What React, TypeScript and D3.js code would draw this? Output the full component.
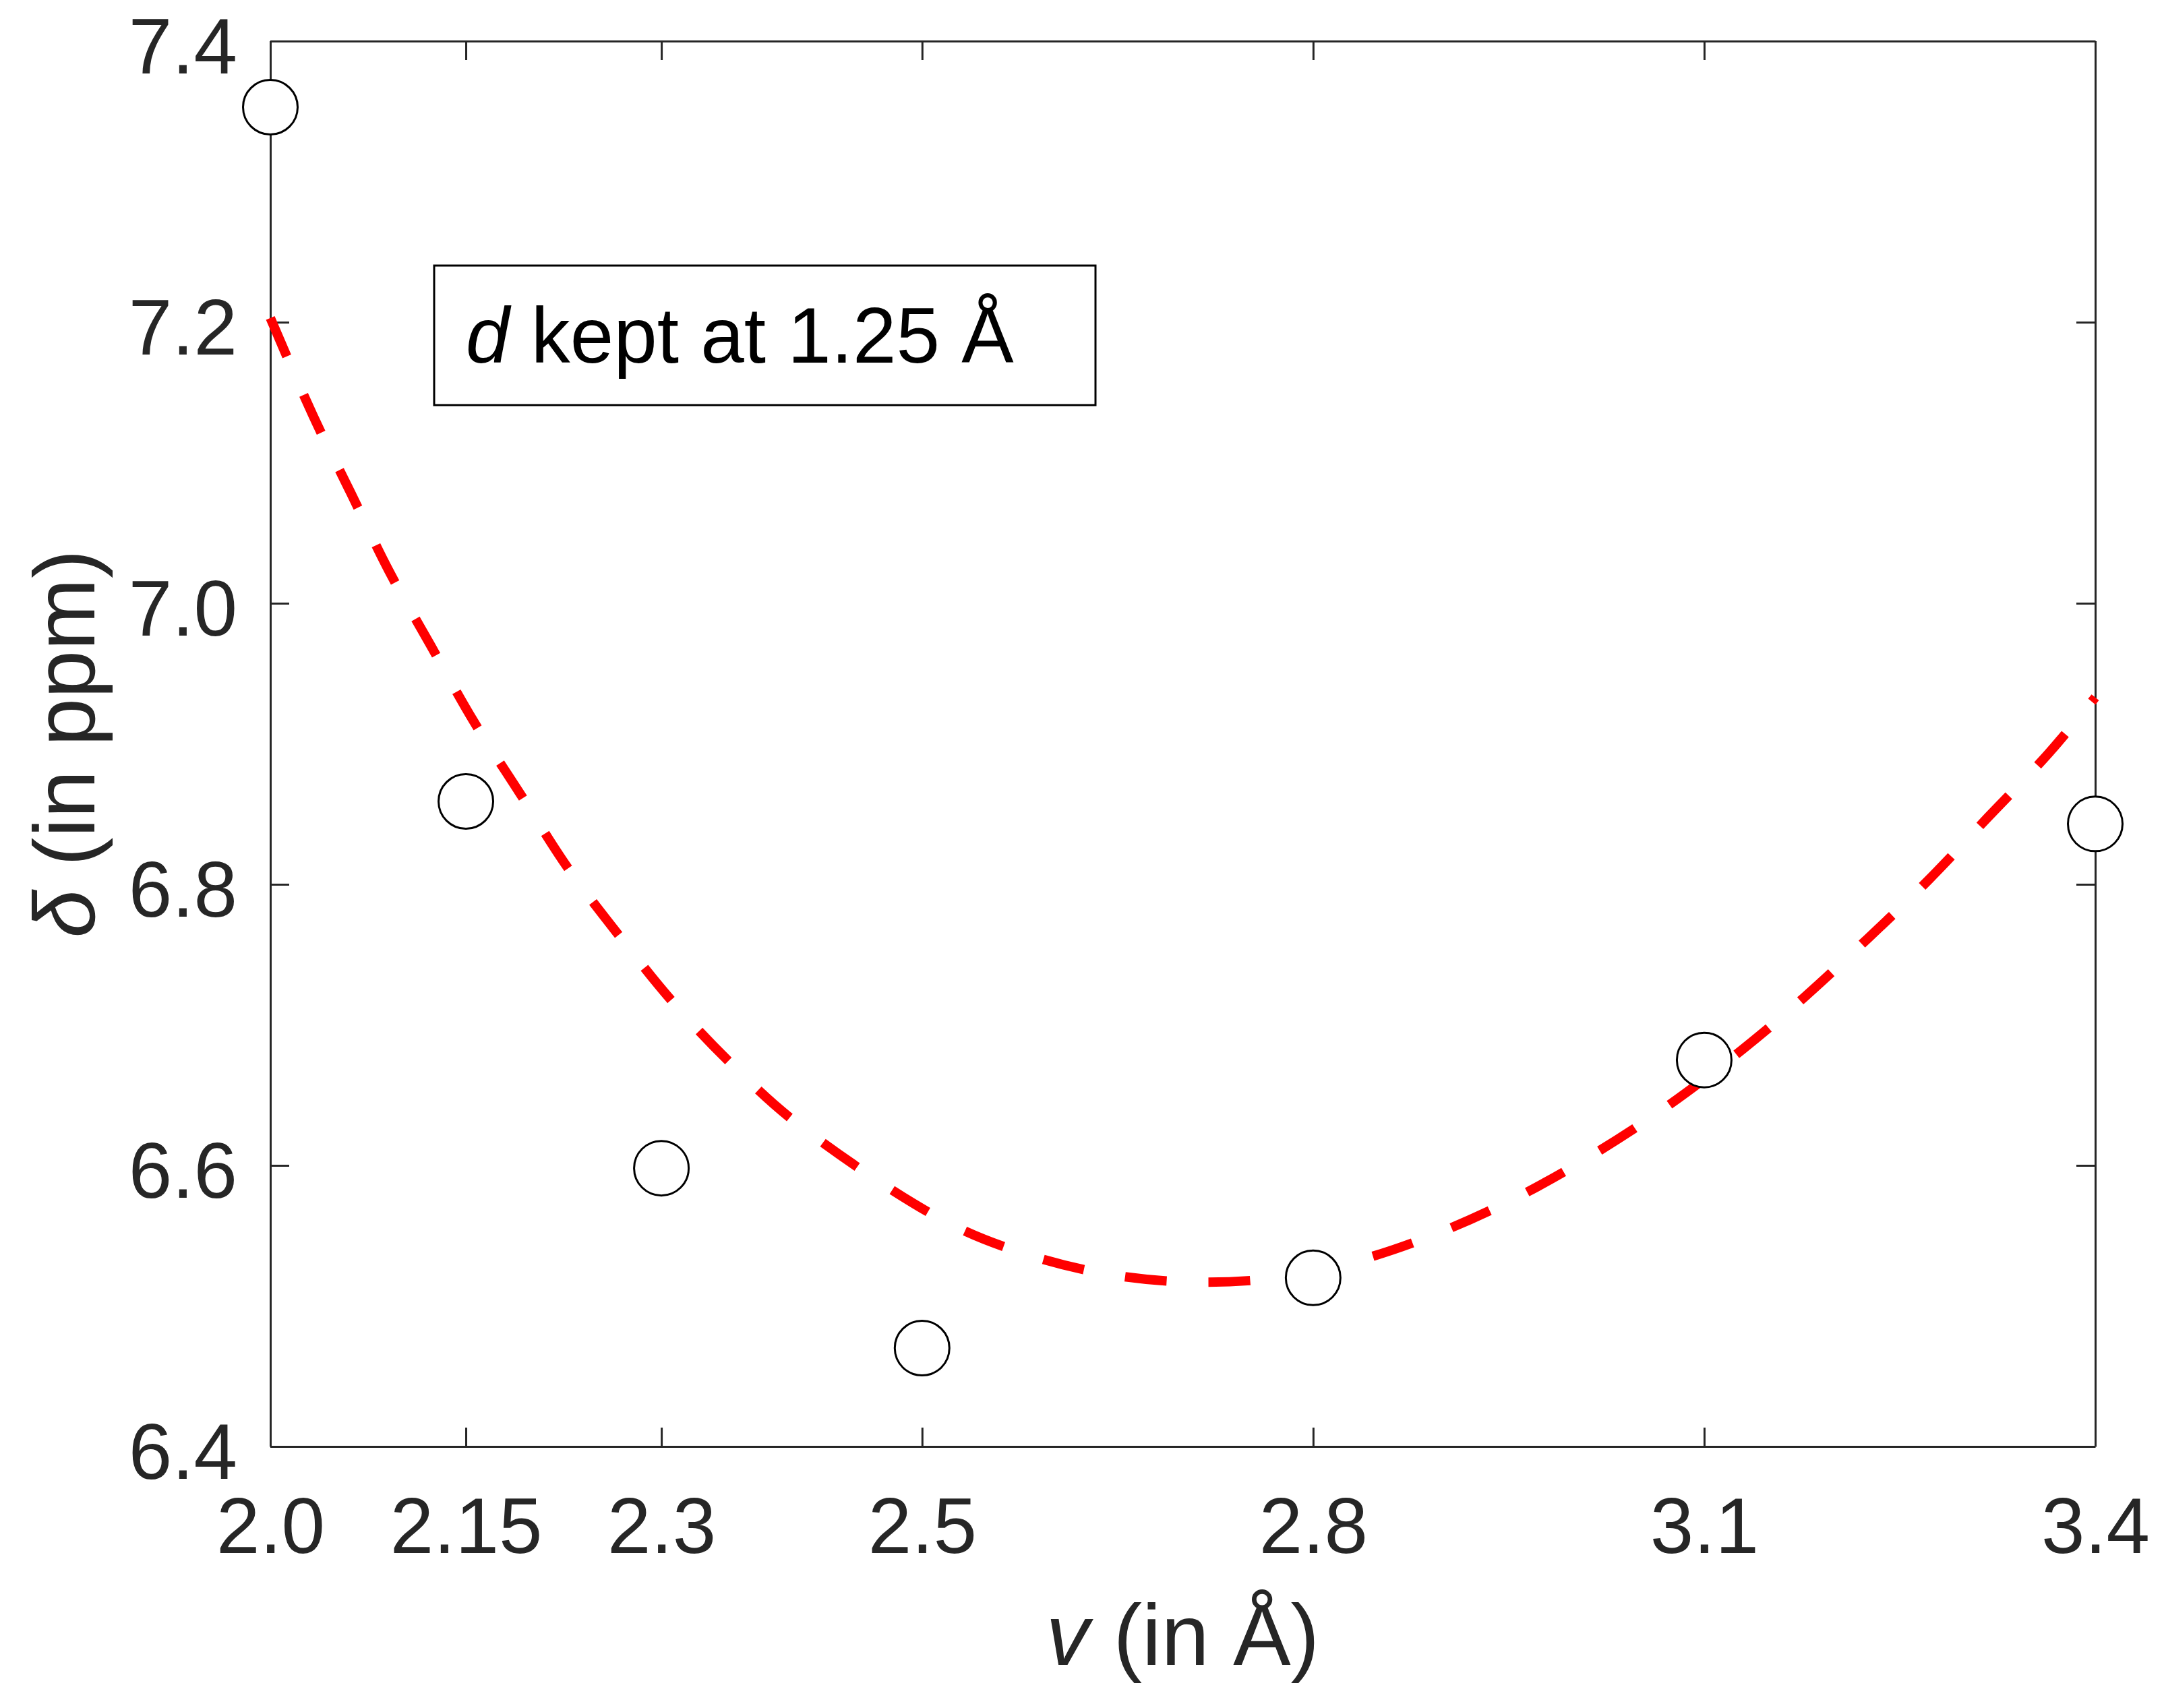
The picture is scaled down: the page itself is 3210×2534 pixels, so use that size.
import { useEffect, useRef } from "react";
import * as d3 from "d3";

// axis ticks
const vTicks = [2.0, 2.15, 2.3, 2.5, 2.8, 3.1, 3.4];
const vTickLabels = ["2.0", "2.15", "2.3", "2.5", "2.8", "3.1", "3.4"];
const deltaTicks = [6.4, 6.6, 6.8, 7.0, 7.2, 7.4];
const deltaTickLabels = ["6.4", "6.6", "6.8", "7.0", "7.2", "7.4"];

// computed points (open circles)
const pointV = [2.0, 2.15, 2.3, 2.5, 2.8, 3.1, 3.4];
const pointDelta = [7.353, 6.859, 6.598, 6.47, 6.52, 6.675, 6.843];

// dashed fit
const fitV = [
  2.0, 2.033, 2.062, 2.091, 2.123, 2.156, 2.192, 2.228, 2.268, 2.309, 2.355,
  2.404, 2.514, 2.576, 2.64, 2.706, 2.772, 2.837, 2.899, 2.96, 3.017, 3.073,
  3.13, 3.176, 3.225, 3.272, 3.318, 3.364, 3.4,
];
const fitDelta = [
  7.203, 7.133, 7.078, 7.023, 6.97, 6.916, 6.864, 6.812, 6.763, 6.716, 6.671,
  6.63, 6.562, 6.538, 6.523, 6.517, 6.52, 6.533, 6.553, 6.579, 6.609, 6.643,
  6.683, 6.719, 6.761, 6.803, 6.848, 6.893, 6.933,
];

const noteText = "kept at 1.25 Å";

const W = 3210;
const H = 2534;
const FONT = "'Liberation Sans', Arial, Helvetica, sans-serif";
const AXIS_COLOR = "#262626";

export default function App() {
  const ref = useRef<SVGSVGElement | null>(null);

  useEffect(() => {
    const svg = d3.select(ref.current);
    if (!ref.current) return;
    svg.selectAll("*").remove();

    const left = 401, right = 3108, top = 61, bottom = 2146;

    const x = d3.scaleLinear().domain([2.0, 3.4]).range([left, right]);
    const y = d3.scaleLinear().domain([6.4, 7.4]).range([bottom, top]);

    const styleAxis = (g: any) => {
      g.attr("color", AXIS_COLOR).attr("font-family", FONT).attr("font-size", 116);
      g.select(".domain").attr("stroke-width", 3);
      g.selectAll(".tick line").attr("stroke-width", 3);
    };

    // bottom axis with labels
    const gx = svg.append("g").attr("transform", `translate(0,${bottom})`);
    gx.call(
      d3.axisBottom(x)
        .tickValues(vTicks)
        .tickFormat((d: any) => vTickLabels[vTicks.indexOf(d)])
        .tickSize(-28)
        .tickSizeOuter(0)
    );
    styleAxis(gx);
    gx.selectAll("text").attr("y", 158).attr("dy", 0).attr("fill", AXIS_COLOR);

    // left axis with labels
    const gy = svg.append("g").attr("transform", `translate(${left},0)`);
    gy.call(
      d3.axisLeft(y)
        .tickValues(deltaTicks)
        .tickFormat((d: any) => deltaTickLabels[deltaTicks.indexOf(d)])
        .tickSize(-28)
        .tickSizeOuter(0)
    );
    styleAxis(gy);
    gy.selectAll("text").attr("x", -49).attr("dy", 47).attr("fill", AXIS_COLOR);

    // top / right, ticks only
    const gt = svg.append("g").attr("transform", `translate(0,${top})`);
    gt.call(d3.axisTop(x).tickValues(vTicks).tickFormat(() => "").tickSize(-28).tickSizeOuter(0));
    styleAxis(gt);
    const gr = svg.append("g").attr("transform", `translate(${right},0)`);
    gr.call(d3.axisRight(y).tickValues(deltaTicks).tickFormat(() => "").tickSize(-28).tickSizeOuter(0));
    styleAxis(gr);

    // axis titles
    const xt = svg.append("text")
      .attr("x", (left + right) / 2)
      .attr("y", 2470)
      .attr("text-anchor", "middle")
      .attr("font-family", FONT)
      .attr("font-size", 128)
      .attr("fill", AXIS_COLOR);
    xt.append("tspan").attr("font-style", "italic").text("v");
    xt.append("tspan").text(" (in Å)");

    const yt = svg.append("text")
      .attr("transform", `translate(140,${(top + bottom) / 2}) rotate(-90)`)
      .attr("text-anchor", "middle")
      .attr("font-family", FONT)
      .attr("font-size", 128)
      .attr("fill", AXIS_COLOR);
    yt.append("tspan").attr("font-style", "italic").text("δ");
    yt.append("tspan").text(" (in ppm)");

    // fit curve
    const fitData = fitV.map((v, i) => [v, fitDelta[i]] as [number, number]);
    const line = d3.line<[number, number]>()
      .x(d => x(d[0]))
      .y(d => y(d[1]))
      .curve(d3.curveCatmullRom);
    svg.append("path")
      .attr("d", line(fitData))
      .attr("fill", "none")
      .attr("stroke", "#ff0000")
      .attr("stroke-width", 14)
      .attr("stroke-dasharray", "62 62");

    // points
    svg.selectAll("circle.pt")
      .data(pointV.map((v, i) => [v, pointDelta[i]]))
      .enter()
      .append("circle")
      .attr("class", "pt")
      .attr("cx", d => x(d[0]))
      .attr("cy", d => y(d[1]))
      .attr("r", 40.5)
      .attr("fill", "#fff")
      .attr("stroke", "#000")
      .attr("stroke-width", 3);

    // annotation box
    svg.append("rect")
      .attr("x", 644)
      .attr("y", 394)
      .attr("width", 981)
      .attr("height", 207)
      .attr("fill", "#fff")
      .attr("stroke", "#000")
      .attr("stroke-width", 3);
    const note = svg.append("text")
      .attr("x", 691)
      .attr("y", 538)
      .attr("font-family", FONT)
      .attr("font-size", 116)
      .attr("fill", "#000");
    note.append("tspan").attr("font-style", "italic").text("d");
    note.append("tspan").text(" " + noteText);
  }, []);

  return (
    <svg
      ref={ref}
      width={W}
      height={H}
      viewBox={`0 0 ${W} ${H}`}
      style={{ position: "absolute", left: 0, top: 0, background: "#fff" }}
    />
  );
}
